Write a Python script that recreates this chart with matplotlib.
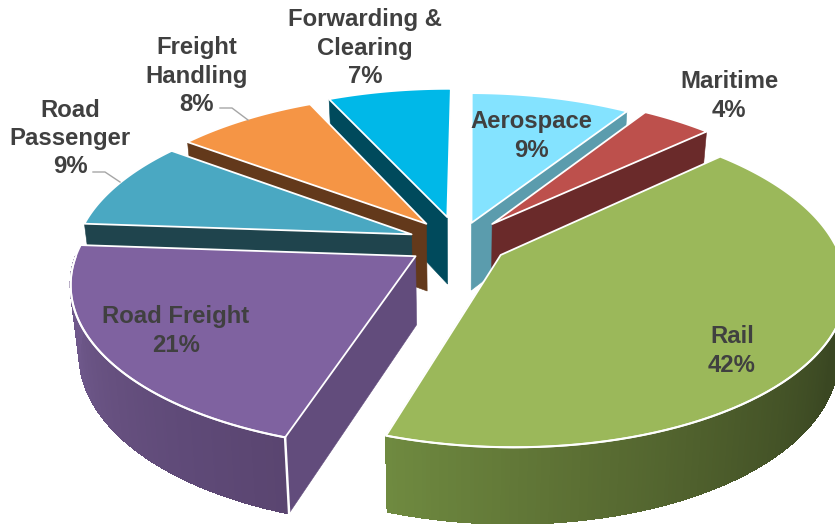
import matplotlib
matplotlib.use("Agg")
import matplotlib.pyplot as plt
import numpy as np
from matplotlib.collections import PolyCollection
from matplotlib.colors import LinearSegmentedColormap
from matplotlib.patches import Polygon

plt.rcParams["font.family"] = ["Liberation Sans", "DejaVu Sans"]

# clockwise from 12 o'clock
sectors = ["Aerospace", "Maritime", "Rail", "Road Freight", "Road\nPassenger", "Freight\nHandling", "Forwarding &\nClearing"]
shares = [9, 4, 42, 21, 9, 8, 7]
explode = [0.133, 0.157, 0.145, 0.155, 0.152, 0.157, 0.17]

top_colors = ["#84e3ff", "#bd504c", "#9bb85a", "#7f62a0", "#4aa8c2", "#f59545", "#00b8e8"]
cut_colors = ["#5b9cad", "#6a2a2a", "#55682f", "#624c7c", "#1f444d", "#63391b", "#004a5c"]
wall_shades = {
    2: ["#3d4b23", "#3a4722", "#4a5a2a", "#5c7034", "#6f8a40"],
    3: ["#5a4570", "#5f4a78", "#66507f", "#6d5789", "#70598c"],
}

# back to front
draw_order = [6, 0, 5, 1, 4, 3, 2]

first_angle = 0.4
cx, cy = 459, 242.5
fx, fy = 335, 156.7
persp = 0.162
lean = 0.012
height = 68


def project(x, y):
    w = 1 / (1 - persp * y)
    return cx + fx * (x + lean * np.maximum(y, 0)) * w, cy + fy * y * w, w


def drop(px, py, w):
    # the underside sits lower and pulls in towards the vanishing point
    return cx + (px - cx) * 0.977, py + height * w**0.6


fig = plt.figure(figsize=(8.35, 5.24), dpi=100)
ax = fig.add_axes([0, 0, 1, 1])
ax.set_xlim(0, 835)
ax.set_ylim(524, 0)
ax.axis("off")

edges = np.concatenate([[0], np.cumsum(shares)]) / sum(shares) * 360 + first_angle

for i in draw_order:
    start, end = edges[i], edges[i + 1]
    mid = np.radians((start + end) / 2)
    ox = explode[i] * np.sin(mid)
    oy = -explode[i] * np.cos(mid)

    theta = np.radians(np.linspace(start, end, 240))
    rx, ry, rw = project(ox + np.sin(theta), oy - np.cos(theta))
    bx, by = drop(rx, ry, rw)
    tx, ty, tw = project(ox, oy)
    tbx, tby = drop(tx, ty, tw)

    # only the cut face turned towards the viewer
    k = -1 if (start + end) / 2 < 180 else 0
    face = [(tx, ty), (rx[k], ry[k]), (bx[k], by[k]), (tbx, tby)]
    ax.add_patch(Polygon(face, closed=True, fc=cut_colors[i], ec=cut_colors[i], lw=0.4))

    # front wall, shaded across its width
    deg = np.degrees(theta)
    front = (deg > 90) & (deg < 270)
    if front.sum() > 1:
        idx = np.where(front)[0]
        quads = [[(rx[a], ry[a]), (rx[a + 1], ry[a + 1]), (bx[a + 1], by[a + 1]), (bx[a], by[a])] for a in idx[:-1]]
        shades = wall_shades.get(i, [cut_colors[i]] * 2)
        cmap = LinearSegmentedColormap.from_list("wall", shades)
        pos = (deg[idx[:-1]] - deg[idx[0]]) / (deg[idx[-1]] - deg[idx[0]])
        cols = cmap(pos)
        ax.add_collection(PolyCollection(quads, facecolors=cols, edgecolors=cols, linewidths=1.0, antialiaseds=False))
        ax.plot(rx[idx], ry[idx], color="white", lw=1.5, solid_capstyle="round")
        if i == 3:
            ax.plot([rx[0], bx[0]], [ry[0], by[0]], color="white", lw=1.8)

    outline = np.column_stack([np.r_[tx, rx], np.r_[ty, ry]])
    ax.add_patch(Polygon(outline, closed=True, fc=top_colors[i], ec="white", lw=1.3, joinstyle="round"))

text_style = dict(ha="center", va="center", fontsize=17.2, fontweight="bold", color="#404040", linespacing=1.28)
ax.text(365, 48, f"{sectors[6]}\n{shares[6]}%", **text_style)
ax.text(197, 76, f"{sectors[5]}\n{shares[5]}%", **text_style)
ax.text(70, 138.5, f"{sectors[4]}\n{shares[4]}%", **text_style)
ax.text(729, 96, f"{sectors[1]}\n{shares[1]}%", **text_style)
ax.text(531, 136, f"{sectors[0]}\n{shares[0]}%", **text_style)
ax.text(176, 331, f"{sectors[3]}\n{shares[3]}%", **text_style)
ax.text(732, 351, f"{sectors[2]}\n{shares[2]}%", **text_style)

# leader lines
ax.plot([93, 105, 120], [172, 172, 182], color="#a6a6a6", lw=1)
ax.plot([220, 232, 248], [108, 108, 120], color="#a6a6a6", lw=1)

fig.savefig("out.png", dpi=100)
